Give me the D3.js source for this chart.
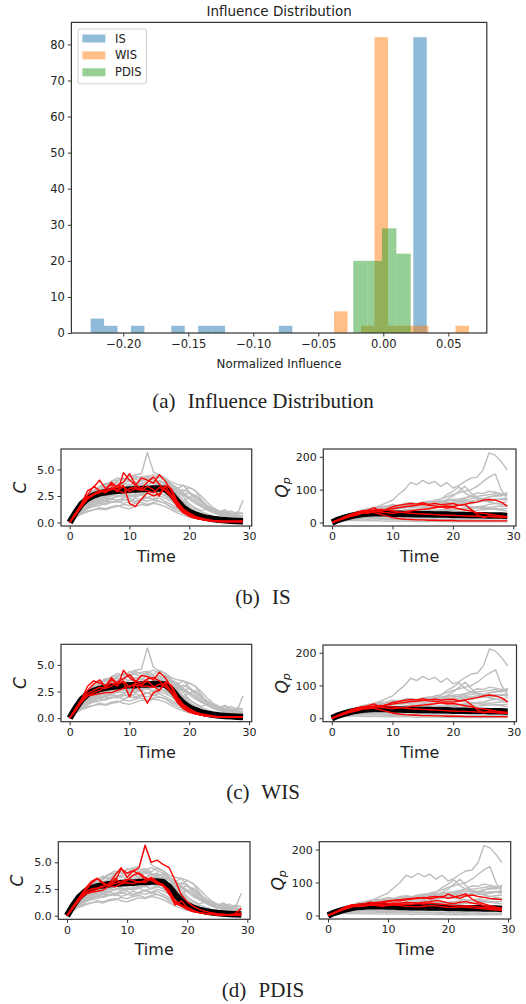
<!DOCTYPE html>
<html><head><meta charset="utf-8">
<script src="https://cdn.jsdelivr.net/npm/d3@7"></script>
<style>body{margin:0;background:#fff}svg text{font-family:"DejaVu Sans",sans-serif;fill:#222}</style>
</head><body>
<svg id="fig" width="526" height="1004"></svg>
<script>
// ---------------- DATA ----------------
const histSeries = ["IS", "WIS", "PDIS"];
const isCounts = [4,2,0,2,0,0,2,0,2,2,0,0,0,0,2,0,0,0,0,0,0,0,0,0,82];
const isRange = [-0.2251, 0.0334];
const wisCounts = [6,0,2,82,2,2,2,0,0,2];
const wisRange = [-0.0379, 0.0659];
const pdisCounts = [20,20,29,22];
const pdisRange = [-0.0231, 0.0211];
const histXTicks = [-0.20,-0.15,-0.10,-0.05,0.00,0.05];
const histYTicks = [0,10,20,30,40,50,60,70,80];

const time = d3.range(0, 30);
const cTicks = [0, 2.5, 5.0];
const qTicks = [0, 100, 200];
const timeTicks = [0, 10, 20, 30];

const grayC = [
[0,0.8,1.6,2.2,2.8,3.2,3.6,3.9,4.2,4.0,4.3,4.5,4.6,6.6,4.8,4.4,4.2,3.6,2.8,2.0,1.5,1.1,0.8,0.6,0.5,0.4,0.3,0.3,0.2,0.2],
[0,1.0,1.8,2.5,3.0,3.3,3.5,3.8,4.0,4.1,3.9,4.2,4.3,4.4,4.1,4.5,4.2,3.8,3.6,3.5,3.3,3.0,2.2,1.5,1.1,0.9,0.8,0.6,0.5,0.4],
[0,0.6,1.2,1.6,1.9,2.1,2.3,2.2,2.5,2.4,2.6,2.5,2.8,2.7,2.9,3.0,2.8,2.3,1.7,1.2,0.9,0.7,0.5,0.4,0.3,0.2,0.2,0.1,0.1,0.1],
[0,0.5,0.9,1.1,1.2,1.4,1.3,1.5,1.6,1.4,1.3,1.5,1.7,1.6,1.8,1.7,1.5,1.2,0.9,0.7,0.5,0.4,0.3,0.2,0.2,0.1,0.1,0.1,0.0,0.0],
[0,0.9,1.7,2.4,2.9,3.0,3.4,3.6,3.3,3.7,3.5,3.8,3.6,4.0,3.8,3.9,3.7,3.4,2.6,1.9,1.4,1.0,0.8,0.6,0.5,0.4,0.3,0.3,0.2,0.2],
[0,0.7,1.4,1.9,2.3,2.6,2.8,3.0,3.1,3.3,3.2,3.5,3.4,3.6,3.8,3.5,3.6,3.3,3.0,2.6,2.8,2.2,1.7,1.3,1.0,0.9,1.1,0.8,0.7,2.1],
[0,0.8,1.5,2.0,2.2,2.5,2.4,2.7,2.9,2.6,3.0,2.8,3.1,3.0,3.3,3.2,3.0,2.7,2.9,3.1,2.8,2.5,2.0,1.6,1.2,1.0,0.8,0.7,0.6,0.5],
[0,0.6,1.1,1.4,1.7,1.8,2.0,1.9,2.1,2.2,2.0,2.3,2.1,2.4,2.2,2.5,2.3,2.0,1.6,1.3,1.0,0.8,0.6,0.5,0.4,0.3,0.3,0.2,0.2,0.1],
[0,1.1,1.9,2.6,3.0,3.4,3.7,3.5,3.9,4.2,4.0,4.4,4.1,4.3,4.5,4.2,4.0,3.5,3.0,2.4,1.8,1.3,1.0,0.8,0.6,0.5,0.4,0.3,0.3,0.2],
[0,0.7,1.3,1.7,2.0,2.2,2.5,2.6,2.4,2.8,2.7,2.9,3.1,2.9,3.0,3.2,3.1,2.9,2.6,2.9,3.3,3.0,2.5,1.9,1.4,1.1,0.9,0.7,1.0,0.8],
[0,0.5,1.0,1.3,1.5,1.6,1.8,2.0,1.9,2.1,2.3,2.0,2.2,2.4,2.1,2.3,2.0,1.7,1.4,1.1,0.9,0.7,0.6,0.5,0.4,0.3,0.4,0.3,0.2,0.2],
[0,0.9,1.6,2.1,2.6,2.8,3.1,3.3,3.5,3.2,3.6,3.4,3.7,3.5,3.9,3.6,3.4,2.8,2.1,1.5,1.1,0.8,0.6,0.5,0.4,0.3,0.2,0.2,0.2,0.1],
[0,0.8,1.4,1.8,2.1,2.4,2.6,2.8,2.7,3.0,3.2,3.4,3.1,3.3,3.5,3.7,3.4,3.6,3.2,2.7,2.3,2.6,2.1,1.6,1.3,1.0,1.2,0.9,0.7,0.6],
[0,0.6,1.2,1.5,1.8,2.0,2.1,2.3,2.5,2.6,2.4,2.7,2.6,2.8,2.5,2.7,2.6,2.2,1.8,1.4,1.1,0.9,0.7,0.6,0.5,0.4,0.3,0.2,0.2,0.2],
[0,1.0,1.8,2.3,2.7,2.9,3.2,3.4,3.8,3.6,4.0,3.7,3.9,4.1,3.8,4.0,3.6,3.0,3.2,3.5,2.9,2.4,1.9,1.4,1.0,0.8,0.6,0.8,0.5,0.4],
[0,0.5,0.8,1.0,1.2,1.3,1.2,1.4,1.5,1.7,1.6,1.8,1.9,1.7,1.9,2.0,1.8,1.5,1.3,1.0,0.8,0.7,0.5,0.4,0.3,0.2,0.2,0.1,0.1,0.1],
[0,0.7,1.3,1.8,2.1,2.3,2.2,2.5,2.7,2.9,2.8,3.0,2.7,3.1,3.0,2.8,3.0,2.6,2.3,2.0,2.4,2.0,1.6,1.2,1.0,0.8,0.9,1.1,0.8,0.9],
[0,0.8,1.5,1.9,2.4,2.7,3.0,3.2,3.0,3.4,3.3,3.1,3.5,3.4,3.2,3.4,3.3,2.9,2.5,2.1,1.7,1.4,1.1,1.3,1.0,0.8,0.7,0.5,0.4,0.3],
[0,0.6,1.0,1.3,1.6,1.9,2.0,2.2,2.1,2.3,2.5,2.4,2.6,2.3,2.6,2.8,2.5,2.2,1.9,1.6,1.2,1.0,0.8,0.6,0.5,0.5,0.4,0.3,0.3,0.2],
[0,0.9,1.7,2.2,2.5,3.0,2.8,3.1,3.6,3.8,4.4,4.1,3.9,4.2,4.0,3.7,3.9,3.6,3.3,2.8,2.4,2.0,1.5,1.2,0.9,0.7,0.6,0.5,0.4,0.3],
[0,0.6,1.2,1.6,1.9,2.2,2.4,2.6,2.9,2.7,2.9,3.1,3.3,3.0,3.2,3.4,3.1,2.8,2.9,2.6,2.2,1.8,1.5,1.3,1.1,1.0,0.9,0.8,0.7,0.6],
[0,0.7,1.1,1.4,1.6,1.8,1.7,1.9,2.0,1.8,2.0,1.9,2.1,2.0,2.2,2.0,1.8,1.4,1.1,0.9,0.7,0.5,0.4,0.3,0.3,0.2,0.2,0.2,0.1,0.1]
];
const meanC = [0,0.95,1.75,2.25,2.55,2.75,2.85,2.95,3.0,3.05,3.1,3.1,3.15,3.15,3.2,3.2,3.15,2.7,2.0,1.4,1.0,0.75,0.55,0.42,0.33,0.26,0.21,0.17,0.14,0.12];

const grayQ = [
[0,7,15,22,28,33,38,45,52,60,68,85,100,122,115,128,118,125,110,122,105,112,125,135,138,160,212,205,185,160],
[0,8,16,24,30,34,38,42,45,48,50,52,55,58,56,60,62,68,72,78,85,90,95,100,110,125,138,148,100,70],
[0,7,14,20,26,30,34,37,40,43,45,48,46,50,52,55,58,60,70,85,95,108,90,80,75,70,72,68,72,75],
[0,6,12,18,22,26,28,30,32,31,33,35,34,36,38,40,42,45,48,52,55,58,62,65,68,72,78,82,85,90],
[0,6,11,16,20,24,26,28,29,30,31,30,32,33,32,34,35,36,35,37,38,40,42,45,48,50,55,58,60,62],
[0,5,10,14,17,19,20,21,22,21,22,23,22,24,23,22,24,25,24,23,24,25,24,26,25,24,26,25,24,25],
[0,5,9,12,14,15,16,15,16,17,16,15,16,17,15,16,15,16,14,15,16,15,14,15,16,15,14,15,14,15],
[0,4,7,9,10,11,10,11,10,9,10,9,10,9,8,9,8,9,8,7,8,7,8,7,6,7,6,7,6,6],
[0,7,14,21,27,32,36,40,44,46,48,50,52,55,53,56,58,62,60,65,68,66,70,72,75,73,78,80,82,85],
[0,6,13,19,25,29,33,38,42,45,47,44,48,52,50,54,57,55,60,62,58,63,66,64,68,70,67,72,70,68],
[0,8,17,25,32,38,42,45,48,50,55,52,58,60,57,62,65,63,60,58,55,52,50,48,45,42,44,40,38,35],
[0,7,15,22,28,32,35,38,40,42,44,43,45,47,46,48,50,52,55,58,62,68,75,82,90,88,95,92,88,82],
[0,5,10,15,18,21,23,25,26,27,28,29,30,31,30,32,33,34,33,35,36,34,36,38,37,39,40,42,41,43],
[0,6,12,17,21,24,27,30,29,33,35,34,38,41,40,44,47,45,50,53,51,56,59,57,62,65,63,68,71,69],
[0,4,8,11,13,14,15,14,13,12,13,12,11,12,11,10,11,10,9,10,9,8,9,8,7,8,7,6,7,6],
[0,7,14,20,25,28,30,32,35,38,40,42,45,48,52,55,60,65,62,70,80,95,110,90,75,68,62,58,55,52],
[0,6,12,17,22,26,30,34,37,40,43,47,50,52,55,58,60,62,65,68,70,72,75,78,80,82,85,88,80,92],
[0,5,11,16,20,23,25,27,28,30,32,31,33,35,34,36,38,37,39,41,40,42,44,43,45,47,46,48,50,49],
[0,3,5,6,7,6,5,6,5,4,5,4,5,4,3,4,3,4,3,3,2,3,2,3,2,2,3,2,2,2]
];
const meanQ = [0,8,14,19,23,26,27,28,28,28,27,27,26,26,25,25,25,24,24,24,23,23,23,22,22,22,21,21,21,20];

const redC_IS = [
[0,0.9,1.8,3.0,3.3,4.0,3.2,3.6,3.0,3.4,2.9,3.2,3.0,3.4,3.1,2.5,3.4,2.6,1.6,1.0,0.6,0.4,0.3,0.2,0.15,0.1,0.1,0.1,0.1,0.1],
[0,0.8,1.6,2.6,3.4,3.0,2.8,3.3,2.9,4.7,4.0,3.5,4.2,4.0,3.7,4.5,3.9,3.0,1.8,1.2,0.8,0.5,0.3,0.2,0.15,0.1,0.1,0.1,0.1,0.1],
[0,0.7,1.5,2.2,2.6,2.8,3.1,3.8,3.3,3.5,1.8,1.5,2.2,2.8,2.5,2.7,3.5,3.2,2.0,1.3,0.9,0.6,0.4,0.3,0.2,0.15,0.1,0.1,0.1,0.1],
[0,0.9,1.7,2.4,2.7,3.0,2.9,3.1,3.5,3.8,4.6,3.6,3.2,3.8,4.3,3.6,3.0,2.4,1.5,0.9,0.6,0.4,0.3,0.2,0.15,0.1,0.1,0.1,0.1,0.1],
[0,0.8,1.6,2.3,2.6,2.9,3.0,3.2,3.0,2.8,3.2,3.3,3.1,3.0,2.8,3.3,3.1,2.6,1.7,1.1,0.7,0.5,0.3,0.2,0.15,0.1,0.1,0.1,0.1,0.1]
];
const redC_WIS = [
[0,0.9,1.8,3.0,3.5,3.3,3.0,3.8,3.2,3.5,2.9,3.3,3.1,3.5,3.0,2.6,3.3,2.5,1.5,0.9,0.6,0.4,0.3,0.2,0.15,0.1,0.1,0.1,0.1,0.1],
[0,0.8,1.6,2.6,3.2,3.6,2.9,3.3,3.0,4.5,3.8,3.4,4.0,3.9,3.6,4.3,3.8,2.9,1.8,1.2,0.8,0.5,0.3,0.2,0.15,0.1,0.1,0.1,0.1,0.1],
[0,0.7,1.5,2.1,2.4,2.6,3.0,3.6,3.2,3.4,2.0,3.2,2.5,1.4,2.4,2.6,3.4,3.1,2.0,1.3,0.9,0.6,0.4,0.3,0.2,0.15,0.1,0.1,0.1,0.1],
[0,0.9,1.7,2.3,2.6,2.9,2.8,3.0,3.4,3.7,4.1,3.5,3.3,3.7,3.8,3.5,3.0,2.4,1.5,0.9,0.6,0.4,0.3,0.2,0.15,0.1,0.1,0.1,0.1,0.1],
[0,0.8,1.6,2.1,2.2,2.3,2.4,2.4,2.6,2.8,3.0,3.1,3.0,3.0,2.9,3.2,3.0,2.5,1.7,1.1,0.7,0.5,0.3,0.2,0.15,0.1,0.1,0.1,0.1,0.1]
];
const redC_PDIS = [
[0,0.8,1.5,2.3,3.0,3.5,3.1,2.8,3.2,4.4,4.0,4.2,4.5,6.6,5.0,5.2,4.8,4.5,3.3,2.0,1.3,0.9,0.6,0.4,0.3,0.2,0.15,0.1,0.1,0.1],
[0,0.9,1.7,2.5,3.2,3.5,3.0,2.8,3.5,3.0,3.3,3.8,4.0,3.6,3.3,3.0,2.8,2.2,1.2,0.9,0.6,0.4,0.3,0.2,0.15,0.1,0.1,0.1,0.2,0.7],
[0,0.7,1.4,2.0,2.3,2.5,2.7,3.0,3.8,4.5,3.6,4.2,3.9,3.4,3.5,3.1,2.9,2.4,1.4,1.0,0.7,0.5,0.3,0.2,0.15,0.1,0.1,0.1,0.1,0.1],
[0,0.8,1.5,2.0,2.2,2.3,2.4,2.8,2.7,3.0,3.1,3.0,3.2,3.1,3.5,3.0,2.8,2.1,1.0,1.4,0.8,0.5,0.3,0.2,0.15,0.1,0.1,0.1,0.1,0.3],
[0,0.8,1.6,2.2,2.5,2.6,2.8,2.9,3.0,3.2,3.4,3.3,3.1,3.3,3.6,3.2,2.9,2.0,1.3,1.0,0.6,0.4,0.3,0.2,0.15,0.1,0.1,0.1,0.1,0.1]
];
const redQ_IS = [
[0,8,16,24,30,35,30,33,35,40,42,45,48,50,52,55,52,50,48,50,48,52,55,60,62,68,70,68,62,50],
[0,7,15,22,30,35,38,45,33,40,48,52,55,58,56,60,55,58,54,56,58,52,55,40,25,15,20,18,16,15],
[0,6,12,18,22,28,32,30,25,20,15,12,10,9,8,8,7,7,6,6,6,5,5,5,5,5,5,5,5,5],
[0,7,14,20,26,30,28,35,32,30,28,30,32,35,38,40,42,45,48,44,46,42,38,35,30,28,25,22,20,18],
[0,8,16,24,28,32,35,38,40,38,35,32,30,28,27,26,25,24,23,22,22,21,20,20,19,18,18,17,17,16]
];
const redQ_WIS = [
[0,8,16,24,30,35,31,34,36,41,43,46,48,51,52,55,53,51,49,50,49,52,56,60,63,68,71,68,62,50],
[0,7,15,22,30,34,38,44,34,41,48,51,55,57,56,60,56,58,55,57,58,53,55,41,26,16,20,18,16,15],
[0,6,12,18,22,27,31,30,26,21,16,13,11,10,9,8,8,7,7,6,6,6,5,5,5,5,5,5,5,5],
[0,7,14,20,26,30,29,35,33,31,29,31,33,36,38,40,42,44,47,44,45,42,38,35,31,28,25,22,20,18],
[0,8,16,23,28,32,35,37,39,37,35,33,31,29,28,27,26,25,24,23,22,21,21,20,19,19,18,17,17,16]
];
const redQ_PDIS = [
[0,8,16,24,30,34,36,40,38,42,44,46,48,50,52,54,52,56,58,55,65,58,52,60,62,58,55,52,50,48],
[0,7,15,22,28,32,30,35,40,38,42,45,44,48,50,52,55,50,54,58,52,56,60,65,50,40,35,30,25,22],
[0,9,18,27,33,30,28,32,30,28,30,32,30,28,27,26,28,30,29,27,25,24,26,25,23,22,20,18,17,15],
[0,7,14,20,26,28,30,33,35,34,36,38,37,40,39,38,40,42,45,43,38,36,40,42,38,35,30,25,20,18],
[0,8,15,22,27,30,32,31,33,30,32,34,33,35,34,36,35,38,36,34,32,30,28,30,28,26,24,22,20,18]
];
const captionLabels = ["(a)", "(b)", "(c)", "(d)"];
const captionTexts = ["Influence Distribution", "IS", "WIS", "PDIS"];

// ---------------- DRAW ----------------
const svg = d3.select("#fig");
const frameColor = "#333";

// Histogram
(function(){
  const L = 71.4, R = 486.8, T = 22.4, B = 333;
  const x = d3.scaleLinear().domain([-0.2399, 0.0796]).range([L, R]);
  const y = d3.scaleLinear().domain([0, 86.1]).range([B, T]);
  const g = svg.append("g");
  const colors = ["#1f77b4", "#ff7f0e", "#2ca02c"];
  const sets = [[isCounts, isRange], [wisCounts, wisRange], [pdisCounts, pdisRange]];
  sets.forEach(([counts, rng], si) => {
    const w = (rng[1] - rng[0]) / counts.length;
    const bins = counts.map((c, i) => ({x0: rng[0] + i * w, x1: rng[0] + (i + 1) * w, c}))
      .filter(d => d.c > 0);
    g.selectAll(null).data(bins).join("rect")
      .attr("x", d => x(d.x0)).attr("width", d => x(d.x1) - x(d.x0))
      .attr("y", d => y(d.c)).attr("height", d => y(0) - y(d.c))
      .attr("fill", colors[si]).attr("fill-opacity", 0.5);
  });
  const xa = g.append("g").attr("transform", `translate(0,${B})`)
    .call(d3.axisBottom(x).tickValues(histXTicks).tickFormat(d3.format(".2f")).tickSize(3.5).tickPadding(3));
  const ya = g.append("g").attr("transform", `translate(${L},0)`)
    .call(d3.axisLeft(y).tickValues(histYTicks).tickSize(3.5).tickPadding(3));
  [xa, ya].forEach(a => {
    a.select(".domain").remove();
    a.selectAll("line").attr("stroke", frameColor);
    a.selectAll("text").attr("font-size", 11.5).attr("font-family", "DejaVu Sans").attr("fill", "#222");
  });
  g.append("rect").attr("x", L).attr("y", T).attr("width", R - L).attr("height", B - T)
    .attr("fill", "none").attr("stroke", frameColor).attr("stroke-width", 1.2);
  g.append("text").attr("x", (L + R) / 2).attr("y", 15.5).attr("text-anchor", "middle")
    .attr("font-size", 13.5).text("Influence Distribution");
  g.append("text").attr("x", (L + R) / 2).attr("y", 368).attr("text-anchor", "middle")
    .attr("font-size", 11.8).text("Normalized Influence");
  // legend
  const lg = g.append("g");
  lg.append("rect").attr("x", 78).attr("y", 29).attr("width", 68.4).attr("height", 54.8)
    .attr("rx", 2).attr("fill", "#fff").attr("fill-opacity", 0.8).attr("stroke", "#d0d0d0");
  histSeries.forEach((s, i) => {
    const cy = 38.5 + i * 16.9;
    lg.append("rect").attr("x", 82.4).attr("y", cy - 4).attr("width", 23).attr("height", 8)
      .attr("fill", colors[i]).attr("fill-opacity", 0.5);
    lg.append("text").attr("x", 115).attr("y", cy + 4).attr("font-size", 11.5).text(s);
  });
})();

// Line panels
function panel(box, yDomain, yTicks, yFmt, grayData, meanData, redData, ylabel) {
  const g = svg.append("g");
  const x = d3.scaleLinear().domain([-1.45, 30.45]).range([box.L, box.R]);
  const y = d3.scaleLinear().domain(yDomain).range([box.B, box.T]);
  const line = d3.line().x((d, i) => x(time[i])).y(d => y(d));
  const clipId = "clip" + Math.round(box.L) + "_" + Math.round(box.T);
  g.append("clipPath").attr("id", clipId).append("rect")
    .attr("x", box.L).attr("y", box.T).attr("width", box.R - box.L).attr("height", box.B - box.T);
  const lines = g.append("g").attr("clip-path", `url(#${clipId})`);
  lines.selectAll(null).data(grayData).join("path").attr("d", line)
    .attr("fill", "none").attr("stroke", "#bdbdbd").attr("stroke-width", 1.4).attr("stroke-linejoin", "round");
  lines.append("path").datum(meanData).attr("d", line)
    .attr("fill", "none").attr("stroke", "#000").attr("stroke-width", 6.5);
  lines.selectAll(null).data(redData).join("path").attr("d", line)
    .attr("fill", "none").attr("stroke", "#ff0000").attr("stroke-width", 1.4).attr("stroke-linejoin", "round");
  const xa = g.append("g").attr("transform", `translate(0,${box.B})`)
    .call(d3.axisBottom(x).tickValues(timeTicks).tickSize(3.5).tickPadding(3));
  const ya = g.append("g").attr("transform", `translate(${box.L},0)`)
    .call(d3.axisLeft(y).tickValues(yTicks).tickFormat(yFmt).tickSize(3.5).tickPadding(3));
  [xa, ya].forEach(a => {
    a.select(".domain").remove();
    a.selectAll("line").attr("stroke", frameColor);
    a.selectAll("text").attr("font-size", 11).attr("font-family", "DejaVu Sans").attr("fill", "#222");
  });
  g.append("rect").attr("x", box.L).attr("y", box.T).attr("width", box.R - box.L).attr("height", box.B - box.T)
    .attr("fill", "none").attr("stroke", frameColor).attr("stroke-width", 1.2);
  g.append("text").attr("x", (box.L + box.R) / 2).attr("y", box.B + 36).attr("text-anchor", "middle")
    .attr("font-size", 16).text("Time");
  const lx = box.L - 41, ly = (box.T + box.B) / 2;
  const t = g.append("text").attr("transform", `translate(${lx},${ly}) rotate(-90)`)
    .attr("text-anchor", "middle").attr("dominant-baseline", "central").attr("font-size", 17);
  if (ylabel === "C") t.attr("font-style", "italic").text("C");
  else {
    t.attr("font-style", "italic");
    t.append("tspan").text("Q");
    t.append("tspan").attr("font-size", 11).attr("dy", 4).text("p");
  }
}
const fmtC = d3.format(".1f"), fmtQ = d3.format("d");
const cDom = [-0.33, 6.93], qDom = [-10.65, 223.65];
panel({L:61, R:251.7, T:449, B:526}, cDom, cTicks, fmtC, grayC, meanC, redC_IS, "C");
panel({L:323.3, R:516, T:449, B:526}, qDom, qTicks, fmtQ, grayQ, meanQ, redQ_IS, "Q");
panel({L:61, R:251.7, T:644.3, B:721.7}, cDom, cTicks, fmtC, grayC, meanC, redC_WIS, "C");
panel({L:323, R:516.5, T:645, B:721.7}, qDom, qTicks, fmtQ, grayQ, meanQ, redQ_WIS, "Q");
panel({L:58.3, R:250, T:841.7, B:919.3}, cDom, cTicks, fmtC, grayC, meanC, redC_PDIS, "C");
panel({L:319.3, R:510.7, T:841.7, B:919}, qDom, qTicks, fmtQ, grayQ, meanQ, redQ_PDIS, "Q");

// captions
const capY = [401, 597, 792, 990];
captionLabels.forEach((lab, i) => {
  const t = svg.append("text").attr("x", 263).attr("y", capY[i]).attr("text-anchor", "middle")
    .attr("dominant-baseline", "central").attr("font-size", 21)
    .style("font-family", "'Liberation Serif', 'Times New Roman', serif");
  t.append("tspan").text(lab);
  t.append("tspan").attr("dx", 7).text(" " + captionTexts[i]);
});
</script>
</body></html>
